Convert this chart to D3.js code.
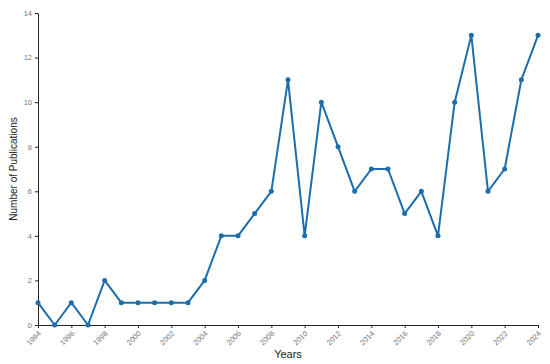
<!DOCTYPE html>
<html>
<head>
<meta charset="utf-8">
<script src="https://cdn.jsdelivr.net/npm/d3@7"></script>
<style>
  body { margin: 0; background: #fff; }
  svg { font-family: "Liberation Sans", Arial, sans-serif; }
  .axis path, .axis line { stroke: #222; }
  .axis text { fill: #777; font-size: 7.5px; }
</style>
</head>
<body>
<svg id="chart" width="550" height="364"></svg>
<script>
const LINE_COLOR = "#1c6dab";

const years = [1994, 1995, 1996, 1997, 1998, 1999, 2000, 2001, 2002, 2003,
  2004, 2005, 2006, 2007, 2008, 2009, 2010, 2011, 2012, 2013,
  2014, 2015, 2016, 2017, 2018, 2019, 2020, 2021, 2022, 2023, 2024];
const publications = [1, 0, 1, 0, 2, 1, 1, 1, 1, 1,
  2, 4, 4, 5, 6, 11, 4, 10, 8, 6,
  7, 7, 5, 6, 4, 10, 13, 6, 7, 11, 13];
const xTicks = [1994, 1996, 1998, 2000, 2002, 2004, 2006, 2008, 2010,
  2012, 2014, 2016, 2018, 2020, 2022, 2024];
const yTicks = [0, 2, 4, 6, 8, 10, 12, 14];

var svg = d3.select("#chart"),
  margin = { top: 13, right: 12, bottom: 39, left: 38 },
  width = +svg.attr("width") - margin.left - margin.right,
  height = +svg.attr("height") - margin.top - margin.bottom,
  g = svg.append("g")
    .attr("transform", "translate(" + margin.left + "," + margin.top + ")");

var x = d3.scaleLinear().domain([1994, 2024]).range([0, width]);
var y = d3.scaleLinear().domain([0, 14]).range([height, 0]);

var data = years.map(function(yr, i) {
  return { year: yr, value: publications[i] };
});

// axes
g.append("g")
  .attr("class", "axis")
  .attr("transform", "translate(0," + height + ")")
  .call(d3.axisBottom(x).tickValues(xTicks).tickFormat(d3.format("d"))
    .tickSize(3).tickSizeOuter(0))
  .selectAll("text")
  .attr("text-anchor", "end")
  .attr("dy", null)
  .attr("y", 0)
  .attr("x", 0)
  .attr("transform", "translate(3,9) rotate(-45)");

g.append("g")
  .attr("class", "axis")
  .call(d3.axisLeft(y).tickValues(yTicks).tickSize(3).tickSizeOuter(0))
  .selectAll("text")
  .attr("x", -6);

// line
var line = d3.line()
  .x(function(d) { return x(d.year); })
  .y(function(d) { return y(d.value); });

g.append("path")
  .datum(data)
  .attr("fill", "none")
  .attr("stroke", LINE_COLOR)
  .attr("stroke-width", 2)
  .attr("stroke-linejoin", "round")
  .attr("d", line);

g.append("g")
  .selectAll("circle")
  .data(data)
  .enter()
  .append("circle")
  .attr("cx", function(d) { return x(d.year); })
  .attr("cy", function(d) { return y(d.value); })
  .attr("r", 2.5)
  .attr("fill", LINE_COLOR);

// axis titles
g.append("text")
  .attr("x", width / 2)
  .attr("y", height + 33)
  .attr("text-anchor", "middle")
  .attr("font-size", 11)
  .attr("fill", "#222")
  .text("Years");

g.append("text")
  .attr("transform", "rotate(-90)")
  .attr("x", -height / 2)
  .attr("y", -21)
  .attr("text-anchor", "middle")
  .attr("font-size", 10)
  .attr("fill", "#222")
  .text("Number of Publications");
</script>
</body>
</html>
